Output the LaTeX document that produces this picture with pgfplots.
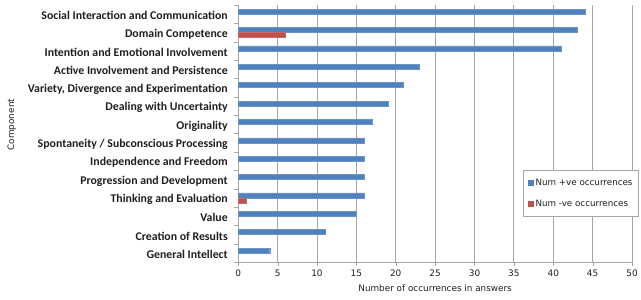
\documentclass[border=0pt]{standalone}
\usepackage{pgfplots}
\pgfplotsset{compat=1.18}
\usepackage{fontspec}
\setmainfont{DejaVu Sans}
\newfontfamily\catfont{Carlito}
\definecolor{posblue}{HTML}{4F81BD}
\definecolor{negred}{HTML}{C0504D}
\definecolor{gridgray}{HTML}{A6A6A6}
\definecolor{labtext}{HTML}{1F1F1F}
\begin{document}
\begin{tikzpicture}
\begin{axis}[
  name=main,
  scale only axis,
  width=395bp, height=258bp,
  xmin=0, xmax=50,
  ymin=-0.5, ymax=13.5,
  y dir=reverse,
  xtick={0,5,...,50},
  ytick={0,...,13},
  yticklabels={Social Interaction and Communication,Domain Competence,Intention and Emotional Involvement,Active Involvement and Persistence,{Variety, Divergence and Experimentation},Dealing with Uncertainty,Originality,Spontaneity / Subconscious Processing,Independence and Freedom,Progression and Development,Thinking and Evaluation,Value,Creation of Results,General Intellect},
  minor ytick={-0.5,0.5,...,13.5},
  major y tick style={draw=none},
  minor y tick style={gridgray},
  minor tick length=4bp,
  major tick length=4bp,
  tick align=outside,
  x tick style={gridgray},
  xmajorgrids,
  grid style={gridgray, line width=0.8pt},
  axis x line*=bottom,
  axis y line*=left,
  axis line style={gridgray, line width=0.8pt},
  /pgf/number format/assume math mode=true,
  xticklabel style={font=\fontsize{9}{10}\selectfont, text=labtext},
  yticklabel style={font=\catfont\bfseries\fontsize{11.9}{13}\selectfont, text=labtext, xshift=-3bp, yshift=-1.5bp},
  xlabel={Number of occurrences in answers},
  xlabel style={font=\fontsize{8.9}{10}\selectfont, text=labtext, at={(axis description cs:0.5,-0.10)}, anchor=center},
  ylabel={Component},
  ylabel style={font=\fontsize{8.9}{10}\selectfont, text=labtext, at={(axis description cs:-0.575,0.535)}, anchor=center},
  xbar,
  bar width=5bp,
  legend style={at={(rel axis cs:1.018,0.36)}, anchor=north east, draw=gridgray, line width=1.2bp, fill=white, font=\fontsize{8.8}{10}\selectfont, text=labtext, row sep=9bp, inner xsep=4bp, inner ysep=7bp},
  legend cell align=left,
  legend image code/.code={\fill[#1,draw=none] (0bp,-3bp) rectangle (6bp,3bp);},
]
\addplot[fill=posblue, draw=posblue!85!white, bar shift=2.5bp] coordinates {
(44,0) (43,1) (41,2) (23,3) (21,4) (19,5) (17,6) (16,7) (16,8) (16,9) (16,10) (15,11) (11,12) (4,13)};
\addplot[fill=negred, draw=negred!85!white, bar shift=-2.5bp] coordinates {
(6,1) (1,10)};
\legend{Num +ve occurrences, Num -ve occurrences}
\end{axis}
\path (main.south west) ++(-239bp,-37bp) coordinate (bbA);
\path (main.north east) ++(7bp,5bp) coordinate (bbB);
\end{tikzpicture}
\end{document}
